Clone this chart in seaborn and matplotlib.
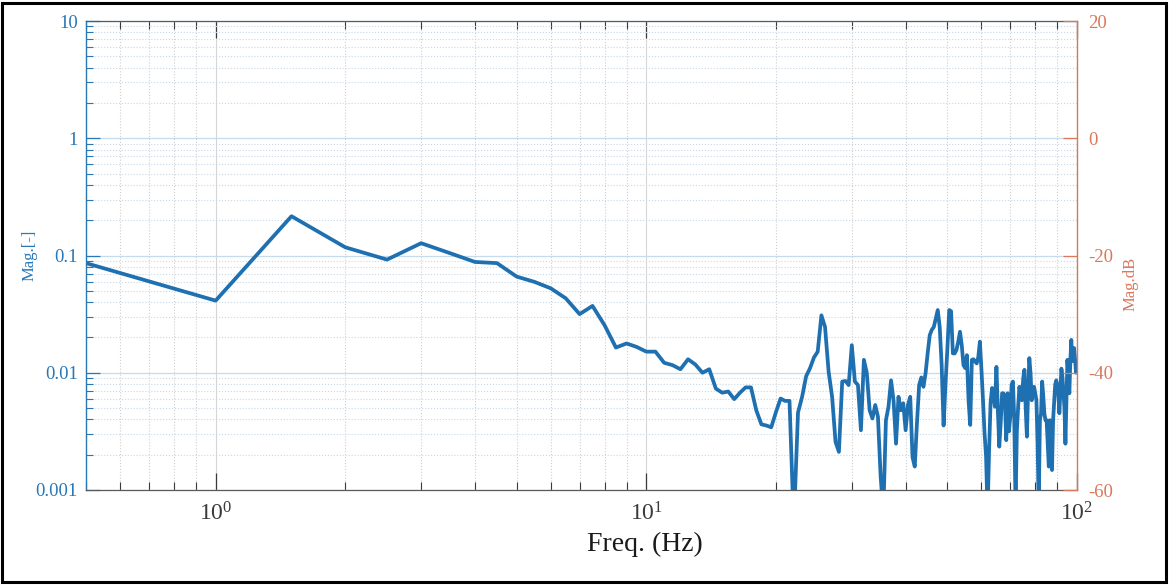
import numpy as np
import pandas as pd
import matplotlib
matplotlib.use("Agg")
import matplotlib.pyplot as plt
import seaborn as sns
from matplotlib.ticker import FixedLocator, FixedFormatter, LogLocator, NullFormatter
from matplotlib.patches import Rectangle

# ------------------------------------------------
# data: spectrum bins every 0.5 Hz, magnitude read in dB
# ------------------------------------------------
freq_hz = np.arange(0.5, 100.5, 0.5)

mag_db = [
    -21.3, -27.7, -13.3, -18.6, -20.7, -17.9, -19.6, -21.1, -21.3, -23.6,
    -24.5, -25.6, -27.3, -30.0, -28.6, -31.9, -35.7, -35.0, -35.6, -36.4,
    -36.4, -38.3, -38.7, -39.4, -37.7, -38.6, -40.0, -39.4, -42.7, -43.4,
    -43.2, -44.5, -43.4, -42.5, -42.5, -46.4, -48.8, -49.0, -49.3, -46.7,
    -44.4, -44.8, -44.8, -66.0, -46.8, -44.1, -40.6, -39.2, -37.4, -36.4,
    -30.2, -32.2, -39.8, -44.1, -51.8, -53.5, -41.5, -41.4, -42.1, -35.3,
    -41.5, -42.1, -49.8, -37.8, -40.0, -46.4, -47.8, -45.5, -47.5, -57.7,
    -64.0, -48.1, -45.8, -41.3, -44.7, -52.1, -44.1, -46.4, -45.2, -49.8,
    -45.5, -44.1, -54.4, -56.0, -48.6, -42.1, -40.8, -42.4, -40.1, -36.7,
    -33.6, -32.7, -32.2, -30.7, -29.3, -32.2, -38.7, -49.0, -42.0, -36.0,
    -29.3, -29.5, -36.7, -36.7, -36.1, -34.7, -33.0, -35.3, -38.7, -39.2,
    -37.0, -44.7, -48.9, -37.8, -37.7, -38.1, -38.4, -37.3, -34.7, -39.5,
    -44.7, -50.3, -54.3, -64.0, -53.2, -45.1, -42.6, -44.1, -45.8, -39.0,
    -46.4, -52.6, -48.6, -43.5, -43.5, -44.7, -51.5, -43.5, -50.0, -47.5,
    -42.0, -41.5, -48.0, -63.0, -50.0, -45.8, -42.4, -44.0, -44.7, -41.0,
    -39.5, -46.0, -50.9, -43.0, -37.5, -40.0, -44.7, -42.5, -42.4, -43.5,
    -44.7, -52.0, -63.0, -48.1, -47.0, -41.5, -44.0, -47.0, -48.1, -48.1,
    -52.0, -56.0, -48.1, -52.0, -56.6, -48.1, -45.0, -42.0, -41.3, -42.0,
    -43.5, -46.9, -43.0, -39.3, -40.7, -43.5, -46.0, -52.1, -45.0, -37.8,
    -40.5, -43.5, -38.0, -34.4, -38.0, -36.0, -35.8, -38.0, -40.0, -38.0,
]

mag_ticks = [0.001, 0.01, 0.1, 1, 10]
mag_ticklabels = ["0.001", "0.01", "0.1", "1", "10"]
db_ticks = [-60, -40, -20, 0, 20]
db_ticklabels = ["-60", "-40", "-20", "0", "20"]

df = pd.DataFrame({"freq": freq_hz, "mag": 10 ** (np.array(mag_db) / 20)})

left_col = "#2878b8"
right_col = "#d9785a"
line_col = "#1f70b0"

# ------------------------------------------------
# figure
# ------------------------------------------------
sns.set_theme(style="white")
plt.rcParams['font.family'] = ['Liberation Serif', 'DejaVu Serif']
plt.rcParams['mathtext.fontset'] = 'stix'

fig = plt.figure(figsize=(11.69, 5.85), dpi=100)
ax = fig.add_axes([86 / 1169, 1 - 490 / 585, (1077 - 86) / 1169, (490 - 21) / 585])
ax.set_xscale('log')
ax.set_yscale('log')

sns.lineplot(data=df, x="freq", y="mag", ax=ax, color=line_col, linewidth=2.7)

ax.set_xlim(0.5, 100)
ax.set_ylim(0.001, 10)

# grid like matlab: solid major, dotted minor
ax.set_axisbelow(True)
ax.grid(which='major', axis='x', color='#d6d6d6', linestyle='-', linewidth=0.8)
ax.grid(which='minor', axis='x', color='#cfcfcf', linestyle=':', linewidth=0.8)
ax.grid(which='major', axis='y', color='#c6dcec', linestyle='-', linewidth=0.9)
ax.grid(which='minor', axis='y', color='#c8d8e6', linestyle=':', linewidth=0.8)

ax.xaxis.set_major_locator(LogLocator(base=10, numticks=10))
ax.xaxis.set_minor_locator(LogLocator(base=10, subs=np.arange(2, 10), numticks=20))
ax.xaxis.set_minor_formatter(NullFormatter())
ax.yaxis.set_major_locator(FixedLocator(mag_ticks))
ax.yaxis.set_major_formatter(FixedFormatter(mag_ticklabels))
ax.yaxis.set_minor_locator(LogLocator(base=10, subs=np.arange(2, 10), numticks=20))
ax.yaxis.set_minor_formatter(NullFormatter())

ax.tick_params(axis='x', which='both', direction='in', top=True, bottom=True,
               colors='#3a3a3a', labelsize=17, pad=9)
ax.tick_params(axis='x', which='major', length=12, width=0.9)
ax.tick_params(axis='x', which='minor', length=6, width=0.8)
ax.tick_params(axis='y', which='both', direction='in', left=True, right=False,
               colors=left_col, labelsize=13.5, pad=6)
ax.tick_params(axis='y', which='major', length=10, width=0.9)
ax.tick_params(axis='y', which='minor', length=5, width=0.8)

for side in ['top', 'bottom']:
    ax.spines[side].set_color('#5a5a5a')
    ax.spines[side].set_linewidth(0.9)
ax.spines['left'].set_color(left_col)
ax.spines['left'].set_linewidth(1.0)
ax.spines['right'].set_visible(False)

ax.set_xlabel('Freq. (Hz)', fontsize=20, color='#1a1a1a')
ax.xaxis.label.set_va('center')
ax.xaxis.set_label_coords(0.564, -0.117)
ax.set_ylabel('Mag.[-]', fontsize=12, color=left_col)
ax.yaxis.label.set_va('center')
ax.yaxis.set_label_coords(-0.057, 0.5)

# right axis in dB
ax2 = ax.twinx()
ax2.set_ylim(-60, 20)
ax2.grid(False)
ax2.yaxis.set_major_locator(FixedLocator(db_ticks))
ax2.yaxis.set_major_formatter(FixedFormatter(db_ticklabels))
ax2.tick_params(axis='y', which='major', direction='in', right=True, left=False,
                length=10, width=0.9, colors=right_col, labelsize=13.5, pad=8)
for side in ['top', 'bottom', 'left']:
    ax2.spines[side].set_visible(False)
ax2.spines['right'].set_color(right_col)
ax2.spines['right'].set_linewidth(1.0)
ax2.set_ylabel('Mag.dB', fontsize=12, color=right_col)
ax2.yaxis.label.set_va('center')
ax2.yaxis.set_label_coords(1.0535, 0.44)

# black frame round the whole picture
fig.patches.append(Rectangle((2 / 1169, 3 / 585), 1164 / 1169, 579 / 585,
                             transform=fig.transFigure, fill=False,
                             edgecolor='black', linewidth=2.2))

fig.savefig("out.png", dpi=100)
